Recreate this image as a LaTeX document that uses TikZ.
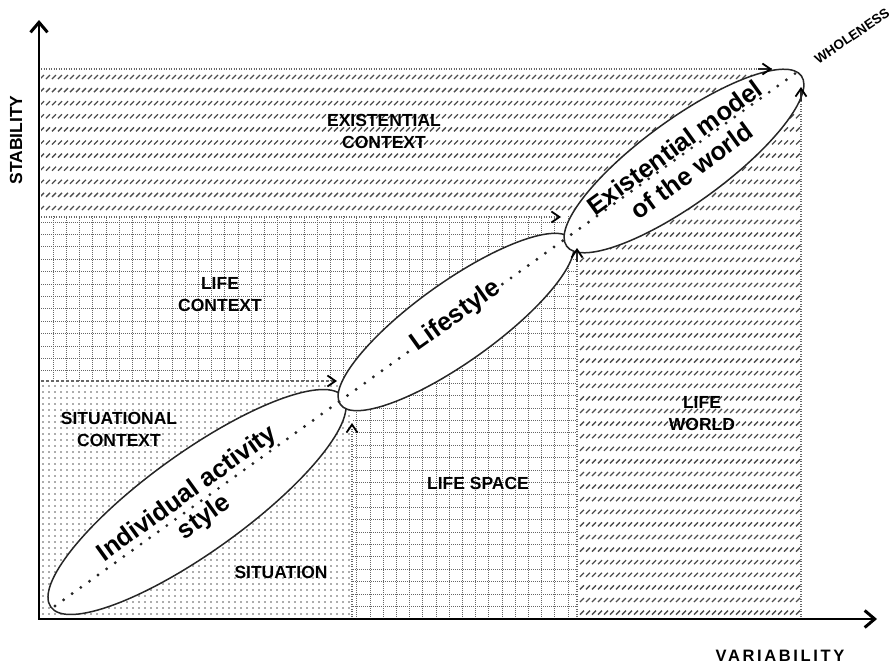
\documentclass[tikz,border=0pt]{standalone}
\usepackage{fontspec}
\setmainfont{Liberation Sans}
\newfontfamily\varfont[LetterSpace=16]{Liberation Sans}
\usetikzlibrary{shapes.geometric,arrows.meta}
\begin{document}
\begin{tikzpicture}[x=1pt,y=-1pt,
  hatch/.style={black!70,line width=1.3pt},
  gridln/.style={black!60,line width=0.9pt,dash pattern=on 0.9pt off 1.1pt},
  dotrow/.style={black!65,line width=1.7pt,line cap=round,dash pattern=on 0pt off 6pt},
  bound/.style={black!60,line width=1.3pt,dash pattern=on 1pt off 1.5pt},
  dashbound/.style={black!60,line width=1.3pt,dash pattern=on 3pt off 2pt},
  barb/.style={-{Straight Barb[length=8pt,width=11pt,line width=1.8pt,color=black]}},
  axisln/.style={line width=2.8pt,{Straight Barb[length=10pt,width=17pt,line width=3pt]}-{Straight Barb[length=10pt,width=17pt,line width=3pt]}},
  oval/.style={ellipse,draw=black!85,line width=1.5pt,fill=white,inner sep=0pt},
  ovaltext/.style={font=\bfseries\fontsize{25.5}{29}\selectfont,align=center},
  lbl/.style={font=\bfseries\fontsize{17.5}{22}\selectfont,align=center},
  diag/.style={black!85,line width=3.2pt,line cap=round,dash pattern=on 0pt off 10.6pt}
]
\useasboundingbox (0,0) rectangle (895,664);

% existential context hatching
\begin{scope}
\clip (41,69) rectangle (801,216);
\foreach \r in {0,...,10}{
  \pgfmathsetmacro\yy{77+13.1*\r}
  \draw[hatch] \foreach \i in {40,46,...,800}{(\i,\yy+2) -- ++(4,-4)};
}
\end{scope}
% life world hatching
\begin{scope}
\clip (577,216) rectangle (801,617);
\foreach \r in {0,...,31}{
  \pgfmathsetmacro\yy{222+12.6*\r}
  \draw[hatch] \foreach \i in {580,586,...,800}{(\i,\yy+2) -- ++(4,-4)};
}
\end{scope}
% grid (life context + life space)
\begin{scope}
\clip (41,216) -- (577,216) -- (577,617) -- (352,617) -- (352,381) -- (41,381) -- cycle;
\foreach \i in {0,...,41}{
  \draw[gridln] (40+13.2*\i,216) -- (40+13.2*\i,617);
}
\foreach \r in {0,...,32}{
  \draw[gridln] (41,222+12.4*\r) -- (577,222+12.4*\r);
}
\end{scope}
% dots (situational)
\begin{scope}
\clip (41,381) rectangle (352,617);
\foreach \r in {0,...,39}{
  \draw[dotrow] (43,386+6*\r) -- (352,386+6*\r);
}
\end{scope}

% boundaries with arrows
\coordinate (s0) at (41,381); \coordinate (s1) at (337,381);
\coordinate (v0) at (352,617); \coordinate (v1) at (352,423);
\coordinate (c0) at (41,217); \coordinate (c1) at (561,217);
\coordinate (w0) at (577,617); \coordinate (w1) at (577,248); \coordinate (w2) at (577,262);
\coordinate (e0) at (41,69); \coordinate (e1) at (772,69); \coordinate (e2) at (758,69);
\coordinate (r0) at (801,617); \coordinate (r1) at (801,87); \coordinate (r2) at (801,101);
\draw[dashbound,barb] (s0) -- (s1);
\draw[bound,barb] (v0) -- (v1);
\draw[bound,barb] (c0) -- (c1);
\draw[bound] (w0) -- (w1);
\draw[bound] (e0) -- (e1);
\draw[bound] (r0) -- (r1);

% ellipses
\node[oval,minimum width=360pt,minimum height=99pt,rotate=35.7] (ias) at (197,502) {};
\node[oval,minimum width=284pt,minimum height=80pt,rotate=35.5] (ls) at (456,322) {};
\node[oval,minimum width=290pt,minimum height=84pt,rotate=36] (emw) at (684,161) {};

% arrow tips lying on the ellipse edges
\draw[barb,black!85,line width=1.3pt] (w2) -- (w1);
\draw[barb,black!85,line width=1.3pt] (e2) -- (e1);
\draw[barb,black!85,line width=1.3pt] (r2) -- (r1);

% diagonal
\coordinate (o) at (55,606); \coordinate (wh) at (800,70);
\draw[diag] (o) -- (wh);

% ellipse texts
\node[ovaltext,rotate=35.7] (t1) at (196,506) {Individual activity\\style};
\node[ovaltext,rotate=35.5,fill=white,inner sep=1pt] (t2) at (456,316) {Lifestyle};
\node[ovaltext,rotate=36] (t3) at (683,159) {Existential model\\of the world};

% region labels
\node[lbl] (lec) at (384,131) {EXISTENTIAL\\CONTEXT};
\node[lbl] (llc) at (220,295) {LIFE\\CONTEXT};
\node[lbl] (lsc) at (119,429) {SITUATIONAL\\CONTEXT};
\node[lbl] (lsi) at (281,572) {SITUATION};
\node[lbl] (lsp) at (478,483) {LIFE SPACE};
\node[lbl] (llw) at (702,414) {LIFE\\WORLD};

% axes
\coordinate (O) at (39,619); \coordinate (Y) at (39,20); \coordinate (X) at (877,619);
\draw[axisln] (Y) -- (O) -- (X);
\node[lbl,rotate=90] (lstab) at (16,140) {STABILITY};
\node[font=\varfont\bfseries\fontsize{16.5}{20}\selectfont] (lvar) at (780,656) {VARIABILITY};
\node[font=\bfseries\fontsize{13.5}{15}\selectfont,rotate=34] (lwh) at (852,36) {WHOLENESS};
\end{tikzpicture}
\end{document}
